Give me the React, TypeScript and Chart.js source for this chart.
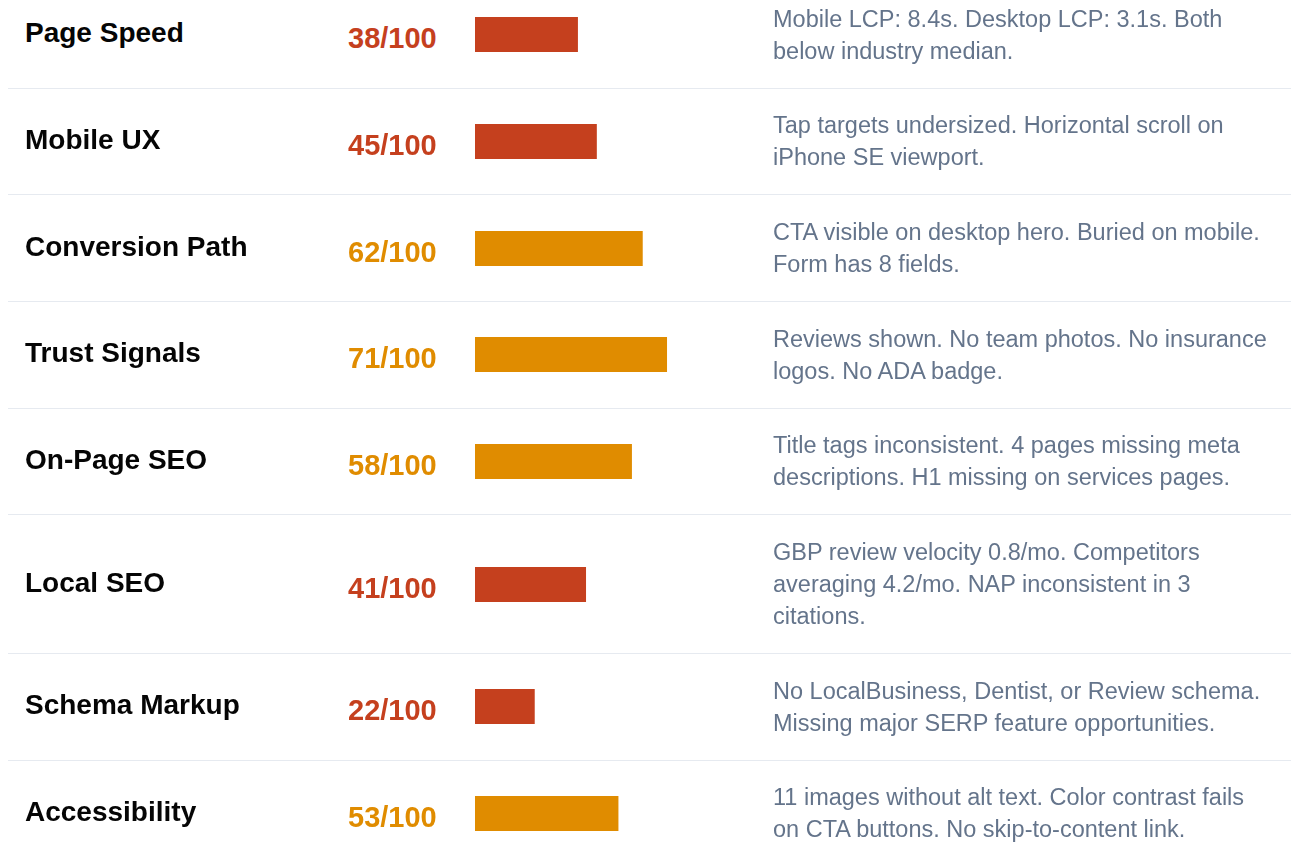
import React, { useEffect, useRef } from "react";
import { Chart, registerables } from "chart.js";

Chart.register(...registerables);

const categories: string[] = [
  "Page Speed",
  "Mobile UX",
  "Conversion Path",
  "Trust Signals",
  "On-Page SEO",
  "Local SEO",
  "Schema Markup",
  "Accessibility",
];

const scores: number[] = [38, 45, 62, 71, 58, 41, 22, 53];

const maxScore = 100;

const notes: string[] = [
  "Mobile LCP: 8.4s. Desktop LCP: 3.1s. Both\nbelow industry median.",
  "Tap targets undersized. Horizontal scroll on\niPhone SE viewport.",
  "CTA visible on desktop hero. Buried on mobile.\nForm has 8 fields.",
  "Reviews shown. No team photos. No insurance\nlogos. No ADA badge.",
  "Title tags inconsistent. 4 pages missing meta\ndescriptions. H1 missing on services pages.",
  "GBP review velocity 0.8/mo. Competitors\naveraging 4.2/mo. NAP inconsistent in 3\ncitations.",
  "No LocalBusiness, Dentist, or Review schema.\nMissing major SERP feature opportunities.",
  "11 images without alt text. Color contrast fails\non CTA buttons. No skip-to-content link.",
];

const RED = "#C5401E";
const ORANGE = "#E08C00";
const colorFor = (v: number) => (v < 50 ? RED : ORANGE);

const FONT = '"Liberation Sans", Arial, Helvetica, sans-serif';

function ScoreBar({ label, value }: { label: string; value: number }) {
  const ref = useRef<HTMLCanvasElement | null>(null);
  useEffect(() => {
    if (!ref.current) return;
    const chart = new Chart(ref.current, {
      type: "bar",
      data: {
        labels: [label],
        datasets: [
          {
            data: [value],
            backgroundColor: colorFor(value),
            borderWidth: 0,
            barPercentage: 1,
            categoryPercentage: 1,
          },
        ],
      },
      options: {
        indexAxis: "y",
        responsive: false,
        animation: false,
        layout: { padding: 0 },
        plugins: { legend: { display: false }, tooltip: { enabled: false } },
        scales: {
          x: { display: false, min: 0, max: maxScore },
          y: { display: false },
        },
      },
    });
    return () => chart.destroy();
  }, [label, value]);
  return (
    <canvas
      ref={ref}
      width={270}
      height={35}
      style={{ display: "block", width: 270, height: 35 }}
    />
  );
}

export default function App() {
  return (
    <div
      style={{
        position: "absolute",
        top: -18,
        left: 8,
        right: 0,
        fontFamily: FONT,
        background: "#fff",
      }}
    >
      {categories.map((cat, i) => (
        <div
          key={cat}
          style={{
            display: "flex",
            alignItems: "center",
            padding: "20.83px 0",
            borderBottom: "1px solid #E6EAF0",
          }}
        >
          <div
            style={{
              width: 340,
              boxSizing: "border-box",
              paddingLeft: 17,
              paddingBottom: 3,
              fontSize: 28,
              fontWeight: 700,
              color: "#050505",
              whiteSpace: "nowrap",
            }}
          >
            {cat}
          </div>
          <div
            style={{
              width: 127,
              paddingTop: 8,
              fontSize: 29,
              fontWeight: 700,
              color: colorFor(scores[i]),
              whiteSpace: "nowrap",
            }}
          >
            {scores[i]}/{maxScore}
          </div>
          <div style={{ width: 298 }}>
            <ScoreBar label={cat} value={scores[i]} />
          </div>
          <div
            style={{
              flex: 1,
              fontSize: 23.5,
              lineHeight: "32px",
              color: "#64748B",
              whiteSpace: "pre",
            }}
          >
            {notes[i]}
          </div>
        </div>
      ))}
    </div>
  );
}
